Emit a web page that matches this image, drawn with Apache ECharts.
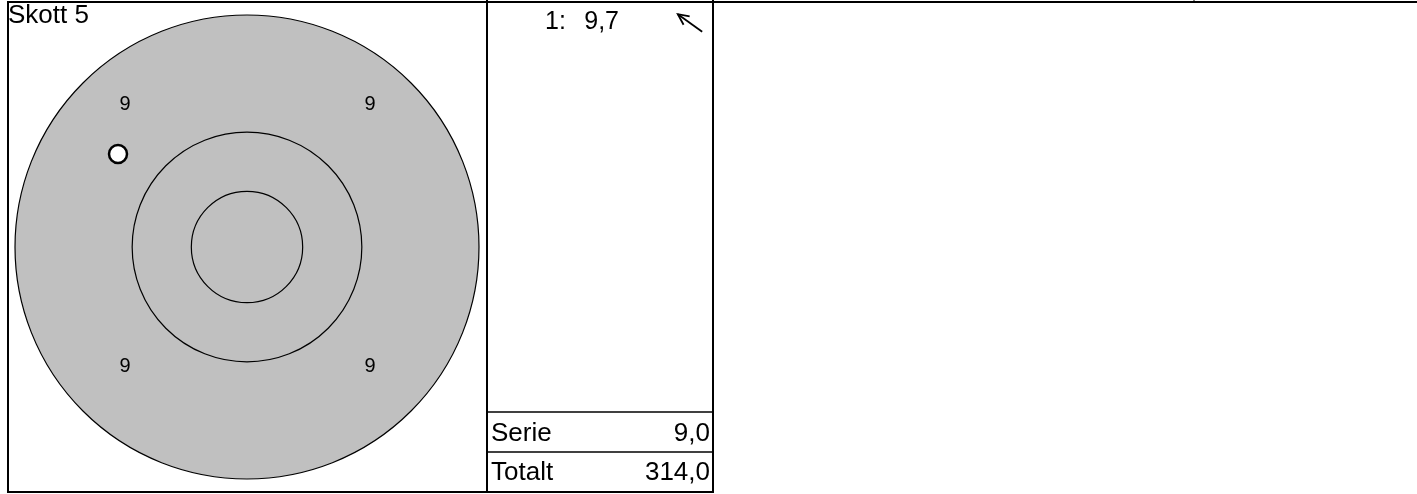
<!DOCTYPE html>
<html>
<head>
<meta charset="utf-8">
<script src="https://cdn.jsdelivr.net/npm/echarts@6/dist/echarts.min.js"></script>
<style>
  html, body { margin: 0; padding: 0; background: #fff; }
  #main { width: 1417px; height: 494px; }
</style>
</head>
<body>
<div id="main"></div>
<script>
var chartDom = document.getElementById('main');
var myChart = echarts.init(chartDom);

// rubrik
var titleText = 'Skott 5';
// ringar (radie i skivans enheter), yttersta först
var ringRadius = [100, 49.5, 24];
var ringFill = ['#c0c0c0', 'none', 'none'];
// ringsiffror
var ringLabelPos = [[-52.6, 61.4], [53, 61.4], [-52.6, -51.7], [53, -51.7]];
var ringLabelText = ['9', '9', '9', '9'];
// träffar
var shotPos = [[-55.6, 40.1]];
var shotNo = [1];
var shotScore = ['9,7'];
// summor
var sumLabels = ['Serie', 'Totalt'];
var sumValues = ['9,0', '314,0'];

var font = '"Liberation Sans", Arial, sans-serif';

// pil som visar träffens riktning
function arrowShape(cx, cy, p) {
    var len = Math.sqrt(p[0] * p[0] + p[1] * p[1]);
    var ux = p[0] / len, uy = -p[1] / len;
    var half = 15;
    var tip = [cx + ux * half, cy + uy * half];
    var tail = [cx - ux * half, cy - uy * half];
    var a = Math.atan2(uy, ux);
    var h = 12, w = Math.PI / 7;
    var h1 = [tip[0] - h * Math.cos(a - w), tip[1] - h * Math.sin(a - w)];
    var h2 = [tip[0] - h * Math.cos(a + w), tip[1] - h * Math.sin(a + w)];
    return [
        { type: 'line', shape: { x1: tail[0], y1: tail[1], x2: tip[0], y2: tip[1] }, style: { stroke: '#000', lineWidth: 1.8 } },
        { type: 'polyline', shape: { points: [h1, tip, h2] }, style: { stroke: '#000', fill: null, lineWidth: 1.8 } }
    ];
}

var graphics = [
    // ram
    { type: 'line', shape: { x1: 7, y1: 2, x2: 1417, y2: 2 }, style: { stroke: '#000', lineWidth: 2 } },
    { type: 'line', shape: { x1: 8, y1: 2, x2: 8, y2: 493 }, style: { stroke: '#000', lineWidth: 2 } },
    { type: 'line', shape: { x1: 487, y1: 0, x2: 487, y2: 493 }, style: { stroke: '#000', lineWidth: 2 } },
    { type: 'line', shape: { x1: 713, y1: 0, x2: 713, y2: 493 }, style: { stroke: '#000', lineWidth: 2 } },
    { type: 'line', shape: { x1: 1194, y1: 0, x2: 1194, y2: 2 }, style: { stroke: '#000', lineWidth: 1 } },
    { type: 'line', shape: { x1: 7, y1: 492, x2: 714, y2: 492 }, style: { stroke: '#000', lineWidth: 2 } },
    { type: 'line', shape: { x1: 487, y1: 412, x2: 713, y2: 412 }, style: { stroke: '#000', lineWidth: 1.5 } },
    { type: 'line', shape: { x1: 487, y1: 452, x2: 713, y2: 452 }, style: { stroke: '#000', lineWidth: 1.5 } }
];

shotScore.forEach(function (s, i) {
    var y = 22 + i * 36;
    graphics.push({
        type: 'text', x: 545, y: y,
        style: { text: shotNo[i] + ':', font: '25px ' + font, fill: '#000', verticalAlign: 'middle' }
    });
    graphics.push({
        type: 'text', x: 619, y: y,
        style: { text: s, font: '25px ' + font, fill: '#000', align: 'right', verticalAlign: 'middle' }
    });
    graphics = graphics.concat(arrowShape(690, 23 + i * 36, shotPos[i]));
});

sumLabels.forEach(function (l, i) {
    var y = 434 + i * 39;
    graphics.push({ type: 'text', x: 491, y: y, style: { text: l, font: '26px ' + font, fill: '#000', verticalAlign: 'middle' } });
    graphics.push({ type: 'text', x: 710, y: y, style: { text: sumValues[i], font: '26px ' + font, fill: '#000', align: 'right', verticalAlign: 'middle' } });
});

var option = {
    animation: false,
    title: {
        text: titleText,
        left: 8,
        top: 3,
        padding: 0,
        textStyle: { fontFamily: font, fontSize: 26, fontWeight: 'normal', color: '#000' }
    },
    grid: { left: 15, top: 15, width: 464, height: 464 },
    xAxis: { type: 'value', min: -100, max: 100, show: false },
    yAxis: { type: 'value', min: -100, max: 100, show: false },
    graphic: graphics,
    series: [
        {
            type: 'custom',
            data: ringRadius,
            renderItem: function (params, api) {
                var c = api.coord([0, 0]);
                var r = api.size([api.value(0), 0])[0];
                return {
                    type: 'circle',
                    shape: { cx: c[0], cy: c[1], r: r },
                    style: { fill: ringFill[params.dataIndex], stroke: '#000', lineWidth: 1.2 }
                };
            },
            silent: true,
            z: 1
        },
        {
            type: 'custom',
            data: ringLabelPos,
            renderItem: function (params, api) {
                var p = api.coord([api.value(0), api.value(1)]);
                return {
                    type: 'text',
                    x: p[0],
                    y: p[1],
                    style: {
                        text: ringLabelText[params.dataIndex],
                        font: '20px ' + font,
                        fill: '#000',
                        align: 'center',
                        verticalAlign: 'middle'
                    }
                };
            },
            silent: true,
            z: 2
        },
        {
            type: 'scatter',
            data: shotPos,
            symbolSize: 18,
            itemStyle: { color: '#fff', borderColor: '#000', borderWidth: 2.5, opacity: 1 },
            z: 3
        }
    ]
};

myChart.setOption(option);
window.addEventListener('resize', function () {
    myChart.resize();
});
</script>
</body>
</html>
